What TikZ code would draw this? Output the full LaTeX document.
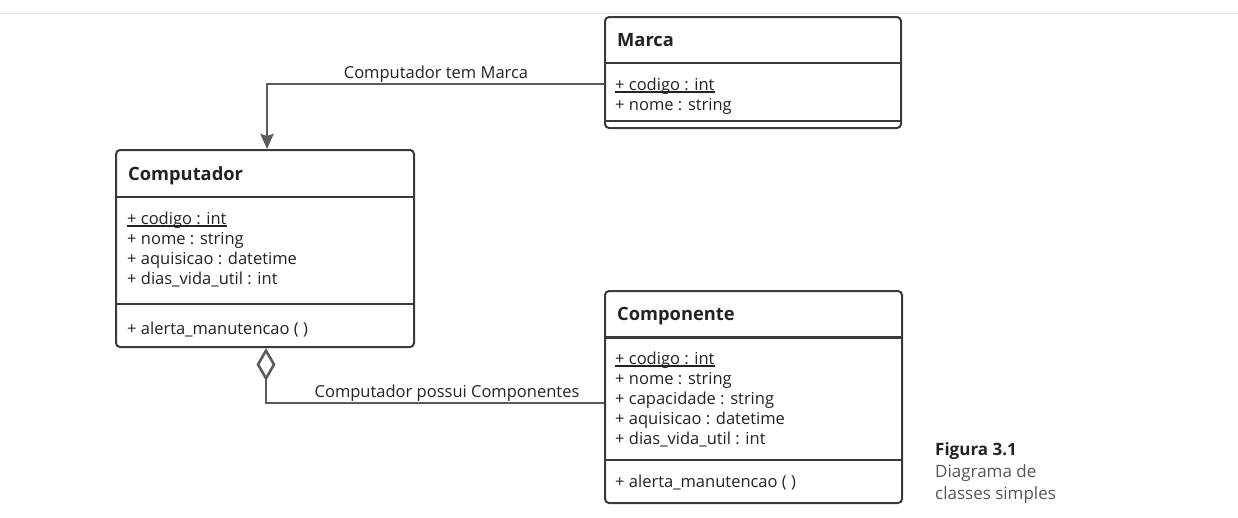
\documentclass[tikz,border=0pt]{standalone}
\usepackage{fontspec}
\setmainfont{Open Sans}
\usetikzlibrary{arrows.meta}
\definecolor{boxline}{HTML}{3A3A3A}
\definecolor{connline}{HTML}{5C5C5C}
\definecolor{txt}{HTML}{222222}
\definecolor{captxt}{HTML}{555555}
\definecolor{topline}{HTML}{E4E4EC}
\tikzset{
  classbox/.style={draw=boxline, line width=2pt, rounded corners=4pt, anchor=north west, inner sep=0pt},
  sepline/.style={draw=boxline, line width=1.3pt},
  septhick/.style={draw=boxline, line width=2.6pt},
  title/.style={anchor=base west, inner sep=0pt, text=txt, font=\fontsize{18.3}{22}\selectfont\bfseries},
  attr/.style={anchor=base west, inner sep=0pt, text=txt, font=\fontsize{16.5}{20}\selectfont, align=left},
  lbl/.style={anchor=base, inner sep=0pt, text=txt, font=\fontsize{16.5}{20}\selectfont},
  conn/.style={draw=connline, line width=2.6pt},
  ulline/.style={draw=txt, line width=1.1pt},
  captext/.style={anchor=base west, inner sep=0pt, font=\fontsize{17}{20}\selectfont},
}
\begin{document}
\begin{tikzpicture}[x=1pt,y=-1pt]
\useasboundingbox (0,0) rectangle (1238,517);
\draw[topline, line width=1pt] (0,13) -- (1238,13);

% Marca
\node[classbox, minimum width=296pt, minimum height=111pt] (marca) at (604,16) {};
\node[title] (marcaT) at (617,46) {Marca};
\draw[sepline] (604,63) -- (900,63);
\node[attr] (marcaA1) at (615,90) {+ codigo : int};
\draw[ulline] ([yshift=-2pt]marcaA1.base west) -- ([yshift=-2pt]marcaA1.base east);
\node[attr] (marcaA2) at (615,110) {+ nome : string};
\draw[sepline] (604,121) -- (900,121);

% Computador
\node[classbox, minimum width=298pt, minimum height=197pt] (comp) at (115,149) {};
\node[title] (compT) at (128,180) {Computador};
\draw[sepline] (115,197) -- (413,197);
\node[attr] (compA1) at (127,224) {+ codigo : int};
\draw[ulline] ([yshift=-2pt]compA1.base west) -- ([yshift=-2pt]compA1.base east);
\node[attr] (compA2) at (127,244) {+ nome : string};
\node[attr] (compA3) at (127,264) {+ aquisicao : datetime};
\node[attr] (compA4) at (127,284) {+ dias\_vida\_util : int};
\draw[sepline] (115,304) -- (413,304);
\node[attr] (compM1) at (127,334) {+ alerta\_manutencao ( )};

% Componente
\node[classbox, minimum width=297pt, minimum height=212pt] (cpt) at (604,290) {};
\node[title] (cptT) at (617,320) {Componente};
\draw[septhick] (604,337.5) -- (901,337.5);
\node[attr] (cptA1) at (615,364) {+ codigo : int};
\draw[ulline] ([yshift=-2pt]cptA1.base west) -- ([yshift=-2pt]cptA1.base east);
\node[attr] (cptA2) at (615,384) {+ nome : string};
\node[attr] (cptA3) at (615,404) {+ capacidade : string};
\node[attr] (cptA4) at (615,424) {+ aquisicao : datetime};
\node[attr] (cptA5) at (615,444) {+ dias\_vida\_util : int};
\draw[septhick] (604,460) -- (901,460);
\node[attr] (cptM1) at (615,487) {+ alerta\_manutencao ( )};

% Connectors
\coordinate (j1) at (267,84);
\coordinate (j2) at (266,403);
\draw[conn, -{Stealth[length=15pt, width=13pt, inset=2pt]}] (marca.west |- j1) -| (comp.north -| j1);
\node[lbl] (l1) at (436,78) {Computador tem Marca};
\draw[conn, {Diamond[open, length=33pt, width=19pt, fill=white]}-] (comp.south -| j2) |- (cpt.west |- j2);
\node[lbl] (l2) at (447,397) {Computador possui Componentes};

% Caption
\node[captext, text=txt, font=\fontsize{17}{20}\selectfont\bfseries] (cap1) at (935,455) {Figura 3.1};
\node[captext, text=captxt] (cap2) at (935,477) {Diagrama de};
\node[captext, text=captxt] (cap3) at (935,499) {classes simples};
\end{tikzpicture}
\end{document}
